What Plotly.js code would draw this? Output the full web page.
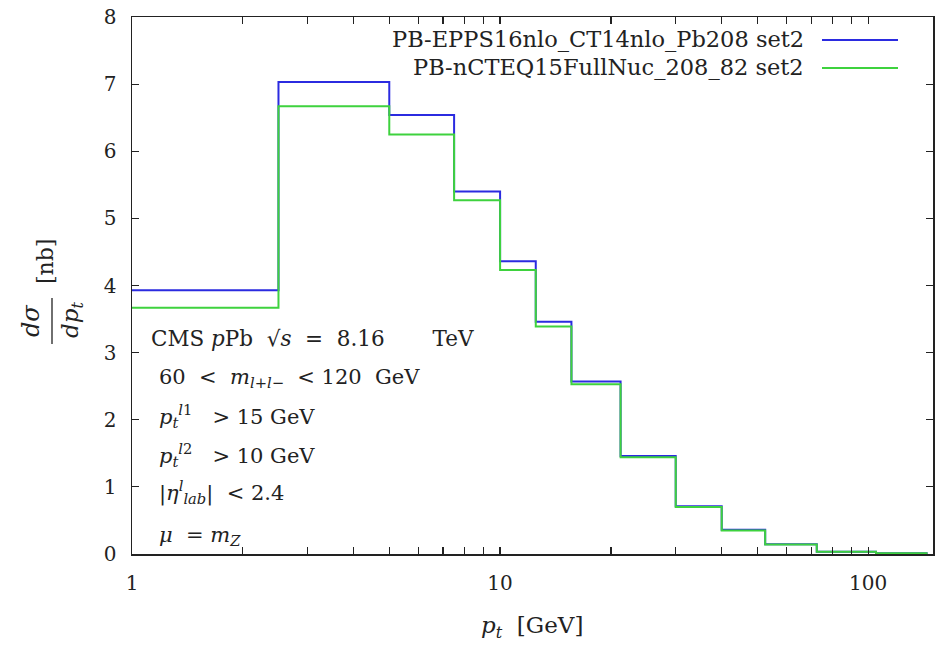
<!DOCTYPE html>
<html>
<head>
<meta charset="utf-8">
<script src="https://cdn.plot.ly/plotly-3.0.1.min.js"></script>
<style>html,body{margin:0;padding:0;background:#fff;}#chart{width:945px;height:647px;}</style>
</head>
<body>
<div id="chart"></div>
<script>
// bin centres (gnuplot "histeps": steps fall half-way between neighbouring centres)
const ptCenters = [1.25, 3.75, 6.25, 8.75, 11.25, 13.75, 17.5, 25, 35, 45, 60, 85, 125];
const eppsValues = [3.93, 7.03, 6.54, 5.40, 4.36, 3.46, 2.57, 1.46, 0.71, 0.36, 0.145, 0.035, 0.012];
const ncteqValues = [3.67, 6.67, 6.25, 5.27, 4.23, 3.39, 2.53, 1.44, 0.70, 0.35, 0.14, 0.032, 0.010];
const seriesNames = ["PB-EPPS16nlo_CT14nlo_Pb208 set2", "PB-nCTEQ15FullNuc_208_82 set2"];
const yTicks = [0, 1, 2, 3, 4, 5, 6, 7, 8];
const xTicks = [1, 2, 3, 4, 5, 6, 7, 8, 9, 10, 20, 30, 40, 50, 60, 70, 80, 90, 100];
const xTickText = ["1", "", "", "", "", "", "", "", "", "10", "", "", "", "", "", "", "", "", "100"];

function histepsEdges(c) {
  const e = [];
  e.push(Math.max(c[0] - (c[1] - c[0]) / 2, 0.5));
  for (let i = 0; i < c.length - 1; i++) e.push((c[i] + c[i + 1]) / 2);
  e.push(c[c.length - 1] + (c[c.length - 1] - c[c.length - 2]) / 2);
  return e;
}
const edges = histepsEdges(ptCenters);
function stepY(v) { return v.concat([v[v.length - 1]]); }

const BLUE = "#2b2be0", GREEN = "#3ed23e";
const FONT = "DejaVu Serif";
const TXT = "#222";
const S = "\u00a0";
const sp = n => S.repeat(n);

// plot area in px
const L = 132, R = 933, T = 17, B = 554, W = 945, H = 647;
const px = x => (x - L) / (R - L);
const py = y => (B - y) / (B - T);

const traces = [
  {x: edges, y: stepY(eppsValues), mode: "lines", line: {shape: "hv", color: BLUE, width: 2}, name: seriesNames[0], showlegend: false},
  {x: edges, y: stepY(ncteqValues), mode: "lines", line: {shape: "hv", color: GREEN, width: 2}, name: seriesNames[1], showlegend: false}
];

const ann = [];
function A(text, x, y, size, opts) {
  ann.push(Object.assign({text: text, xref: "paper", yref: "paper", x: px(x), y: py(y), showarrow: false,
    font: {family: FONT, size: size, color: TXT}, xanchor: "left", yanchor: "middle"}, opts || {}));
}
// legend (gnuplot style: text then sample)
A(seriesNames[0], 806, 39, 22.5, {xanchor: "right"});
A(seriesNames[1], 806, 67, 22.5, {xanchor: "right"});
// info box
A("CMS " + "<i>p</i>Pb" + sp(2) + "√<i>s</i>" + sp(2) + "=" + sp(2) + "8.16" + sp(7) + "TeV", 149, 338, 21.5);
A("60" + sp(2) + "<" + sp(2) + "<i>m</i><sub><i>l</i>+<i>l</i>−</sub>" + sp(2) + "<" + sp(1) + "120" + sp(2) + "GeV", 157, 378, 21);
A("<i>p</i><sub><i>t</i></sub><sup><i>l</i>1</sup>" + sp(3) + ">" + sp(1) + "15" + sp(1) + "GeV", 157, 416, 21);
A("<i>p</i><sub><i>t</i></sub><sup><i>l</i>2</sup>" + sp(3) + ">" + sp(1) + "10" + sp(1) + "GeV", 157, 455, 21);
A("|<i>η</i><sup><i>l</i></sup><sub><i>lab</i></sub>|" + sp(2) + "<" + sp(1) + "2.4", 157, 492, 21);
A("<i>μ</i>" + sp(2) + "=" + sp(1) + "<i>m</i><sub><i>Z</i></sub>", 157, 536, 21);
// y-axis title as a fraction
A("<i>dσ</i>", 31, 321, 24, {xanchor: "center", textangle: -90});
A("<i>dp</i><sub><i>t</i></sub>", 72, 320, 23, {xanchor: "center", textangle: -90});
A("[nb]", 45, 262, 22, {xanchor: "center", textangle: -90});
// x-axis title
A("<i>p</i><sub><i>t</i></sub>" + sp(2) + "[GeV]", 532, 627, 23, {xanchor: "center"});

const shapes = [
  {type: "line", xref: "paper", yref: "paper", x0: px(822), x1: px(898), y0: py(40), y1: py(40), line: {color: BLUE, width: 2}},
  {type: "line", xref: "paper", yref: "paper", x0: px(822), x1: px(898), y0: py(68), y1: py(68), line: {color: GREEN, width: 2}},
  {type: "line", xref: "paper", yref: "paper", x0: px(52), x1: px(52), y0: py(298), y1: py(344), line: {color: TXT, width: 1.3}}
];

const axisCommon = {showgrid: false, zeroline: false, showline: true, linecolor: TXT, linewidth: 1.5,
  ticks: "inside", ticklen: 7, tickwidth: 1.2, tickcolor: TXT, mirror: "allticks",
  tickfont: {family: FONT, size: 20, color: TXT}};

const layout = {
  width: W, height: H,
  margin: {l: L, r: W - R, t: T, b: H - B, pad: 0},
  paper_bgcolor: "#fff", plot_bgcolor: "#fff",
  showlegend: false,
  xaxis: Object.assign({}, axisCommon, {type: "log", range: [0, Math.log10(150)], tickmode: "array",
    tickvals: xTicks, ticktext: xTickText, ticklabelstandoff: 10}),
  yaxis: Object.assign({}, axisCommon, {range: [0, 8], tickmode: "array", tickvals: yTicks, ticklabelstandoff: 10}),
  annotations: ann,
  shapes: shapes
};

Plotly.newPlot("chart", traces, layout, {staticPlot: true, displayModeBar: false});
</script>
</body>
</html>
